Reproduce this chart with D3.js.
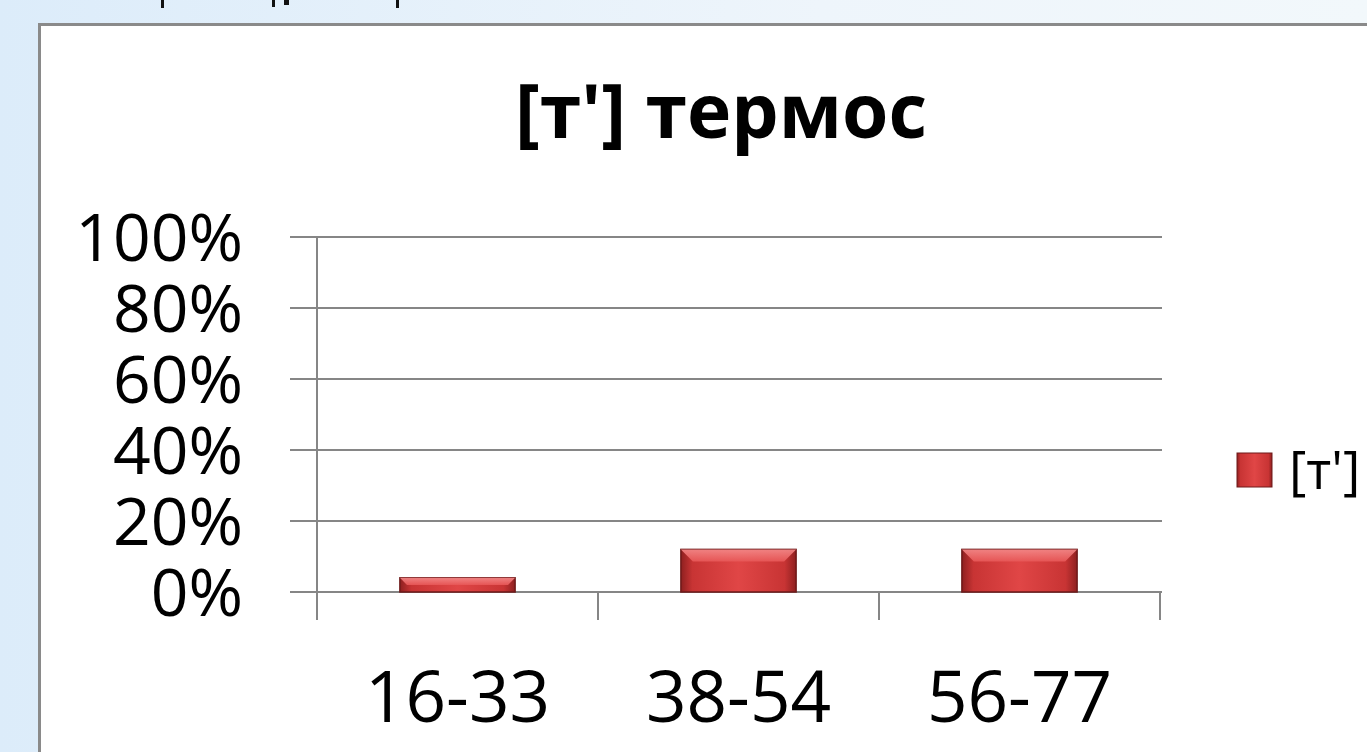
<!DOCTYPE html>
<html>
<head>
<meta charset="utf-8">
<script src="https://cdn.jsdelivr.net/npm/d3@7"></script>
<style>
  html, body { margin: 0; padding: 0; overflow: hidden; }
  body { width: 1367px; height: 752px; }
  text { font-family: "Open Sans", "Noto Sans", sans-serif; fill: #000; }
</style>
</head>
<body>
<div id="chart"></div>
<script>

// data
var categories = ['16-33', '38-54', '56-77']
var values = [0.04, 0.12, 0.12]
var seriesName = "[т']"
var title = "[т'] термос"
var yTicks = [0, 0.2, 0.4, 0.6, 0.8, 1]

var W = 1367, H = 752

var svg = d3.select('#chart')
    .append('svg')
        .attr('width', W)
        .attr('height', H)

var defs = svg.append('defs')

// slide background, pale blue fading to white
var bg = defs.append('linearGradient').attr('id', 'bg')
    .attr('x1', 0).attr('y1', 0).attr('x2', 1).attr('y2', 0)
bg.append('stop').attr('offset', '0%').attr('stop-color', '#dcecfa')
bg.append('stop').attr('offset', '60%').attr('stop-color', '#eef5fb')
bg.append('stop').attr('offset', '100%').attr('stop-color', '#f2f8fb')

// bar body: dark edges, bright middle
var barGrad = defs.append('linearGradient').attr('id', 'barGrad')
    .attr('x1', 0).attr('y1', 0).attr('x2', 1).attr('y2', 0)
barGrad.append('stop').attr('offset', '0%').attr('stop-color', '#8e2020')
barGrad.append('stop').attr('offset', '10%').attr('stop-color', '#c83434')
barGrad.append('stop').attr('offset', '50%').attr('stop-color', '#e04646')
barGrad.append('stop').attr('offset', '90%').attr('stop-color', '#c83434')
barGrad.append('stop').attr('offset', '100%').attr('stop-color', '#8e2020')

var topGrad = defs.append('linearGradient').attr('id', 'topGrad')
    .attr('x1', 0).attr('y1', 0).attr('x2', 0).attr('y2', 1)
topGrad.append('stop').attr('offset', '0%').attr('stop-color', '#f48a8a')
topGrad.append('stop').attr('offset', '100%').attr('stop-color', '#e85858')

svg.append('rect')
    .attr('width', W).attr('height', H)
    .attr('fill', 'url(#bg)')

// bits of the slide heading that is cut off above
var cut = [[161, 0, 3, 8], [272, 0, 3, 7], [284, 0, 5, 5], [396, 0, 3, 8]]
svg.selectAll('.cut')
    .data(cut)
    .enter()
    .append('rect')
    .attr('x', function(d) { return d[0] })
    .attr('y', function(d) { return d[1] })
    .attr('width', function(d) { return d[2] })
    .attr('height', function(d) { return d[3] })
    .attr('fill', '#111')

// chart frame, runs off the right and bottom
svg.append('rect')
    .attr('x', 39.5).attr('y', 24.5)
    .attr('width', W).attr('height', H)
    .attr('fill', '#fff')
    .attr('stroke', '#8a8a8a')
    .attr('stroke-width', 3)

svg.append('text')
    .attr('x', 721)
    .attr('y', 138)
    .attr('text-anchor', 'middle')
    .style('font-size', '75px')
    .style('font-weight', 'bold')
    .text(title)

var x = d3.scaleBand()
    .domain(categories)
    .range([317, 1160])
    .paddingInner(0.59)
    .paddingOuter(0.295)

var y = d3.scaleLinear()
    .domain([0, 1])
    .range([592, 237])

// gridlines, also serving as the left tick marks
svg.append('g')
    .selectAll('line')
    .data(yTicks)
    .enter()
    .append('line')
    .attr('x1', 290)
    .attr('x2', 1162)
    .attr('y1', function(d) { return y(d) })
    .attr('y2', function(d) { return y(d) })
    .attr('stroke', '#868686')
    .attr('stroke-width', 2)

svg.append('g')
    .selectAll('text')
    .data(yTicks)
    .enter()
    .append('text')
    .attr('x', 243)
    .attr('y', function(d) { return y(d) })
    .attr('dy', '0.36em')
    .attr('text-anchor', 'end')
    .style('font-size', '66px')
    .text(d3.format('.0%'))

// vertical axis line
svg.append('line')
    .attr('x1', x.range()[0]).attr('x2', x.range()[0])
    .attr('y1', y(1)).attr('y2', 620)
    .attr('stroke', '#868686')
    .attr('stroke-width', 2)

// category tick marks between bands
var bounds = categories.map(function(c) { return x(c) - x.step() * x.paddingInner() / 2 })
bounds.push(x.range()[1])
svg.append('g')
    .selectAll('line')
    .data(bounds)
    .enter()
    .append('line')
    .attr('x1', function(d) { return d })
    .attr('x2', function(d) { return d })
    .attr('y1', y(0))
    .attr('y2', 620)
    .attr('stroke', '#868686')
    .attr('stroke-width', 2)

svg.append('g')
    .selectAll('text')
    .data(categories)
    .enter()
    .append('text')
    .attr('x', function(d) { return x(d) + x.bandwidth() / 2 })
    .attr('y', 722)
    .attr('text-anchor', 'middle')
    .style('font-size', '71px')
    .text(function(d) { return d })

// bars
var bars = svg.append('g')
    .selectAll('g')
    .data(values)
    .enter()
    .append('g')

bars.append('rect')
    .attr('x', function(d, i) { return x(categories[i]) })
    .attr('y', function(d) { return y(d) })
    .attr('width', x.bandwidth())
    .attr('height', function(d) { return y(0) - y(d) })
    .attr('fill', 'url(#barGrad)')
    .attr('stroke', '#6e1a1a')
    .attr('stroke-width', 1.5)

// bevelled top
bars.append('path')
    .attr('d', function(d, i) {
        var x0 = x(categories[i]), x1 = x0 + x.bandwidth()
        var y0 = y(d), b = Math.min(12, (y(0) - y(d)) / 2)
        return 'M' + x0 + ',' + y0 + 'L' + x1 + ',' + y0 +
            'L' + (x1 - b) + ',' + (y0 + b) + 'L' + (x0 + b) + ',' + (y0 + b) + 'Z'
    })
    .attr('fill', 'url(#topGrad)')
    .attr('opacity', 0.9)

// legend
svg.append('rect')
    .attr('x', 1237).attr('y', 453)
    .attr('width', 35).attr('height', 34)
    .attr('fill', 'url(#barGrad)')
    .attr('stroke', '#6e1a1a')
    .attr('stroke-width', 1)

svg.append('text')
    .attr('x', 1289)
    .attr('y', 489)
    .style('font-size', '53px')
    .text(seriesName)

</script>
</body>
</html>
